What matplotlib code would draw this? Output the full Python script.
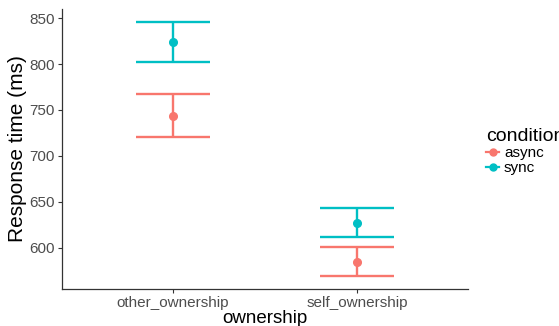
import numpy as np
import matplotlib.pyplot as plt
from matplotlib.lines import Line2D

plt.rcParams['font.family'] = ['Liberation Sans', 'DejaVu Sans']

# Mean response times and error half-widths per ownership condition
ownership = ["other_ownership", "self_ownership"]
conditions = ["async", "sync"]
means = {"async": [744, 585], "sync": [824, 627.5]}
errors = {"async": [23, 16], "sync": [22, 15.5]}
colors = {"async": "#F8766D", "sync": "#00BFC4"}
cap_width = 0.4

fig = plt.figure(figsize=(5.59, 3.26), dpi=100)
ax = fig.add_axes([62 / 559, 37 / 326, 406 / 559, 280 / 326])

x = np.arange(1, len(ownership) + 1)
for cond in conditions:
    m = np.array(means[cond])
    e = np.array(errors[cond])
    ax.vlines(x, m - e, m + e, color=colors[cond], linewidth=1.7)
    ax.hlines(m - e, x - cap_width / 2, x + cap_width / 2,
              color=colors[cond], linewidth=1.7)
    ax.hlines(m + e, x - cap_width / 2, x + cap_width / 2,
              color=colors[cond], linewidth=1.7)
    ax.plot(x, m, "o", color=colors[cond], markersize=5.5)

ax.set_xlim(0.4, 2.6)
ax.set_ylim(555.4, 859.8)
ax.set_xticks(x)
ax.set_xticklabels(ownership)
ax.set_yticks([600, 650, 700, 750, 800, 850])

for side in ["top", "right"]:
    ax.spines[side].set_visible(False)
for side in ["left", "bottom"]:
    ax.spines[side].set_color("#333333")
    ax.spines[side].set_linewidth(0.9)
ax.tick_params(axis="both", length=3, width=0.8, color="#333333",
               labelsize=11, labelcolor="#4D4D4D", pad=2)

ax.set_xlabel("ownership", fontsize=13.5, labelpad=0)
ax.set_ylabel("Response time (ms)", fontsize=15, labelpad=2)

handles = [Line2D([0], [0], color=colors[c], marker="o", markersize=5,
                  linewidth=1.6) for c in conditions]
leg = fig.legend(handles, conditions, title="condition",
                 loc="center left", bbox_to_anchor=(475 / 559, 0.535),
                 frameon=False, fontsize=11, title_fontsize=14,
                 handlelength=0.9, handletextpad=0.3, labelspacing=0.05,
                 borderpad=0.2)
leg._legend_box.align = "left"

fig.savefig("out.png", dpi=100)
